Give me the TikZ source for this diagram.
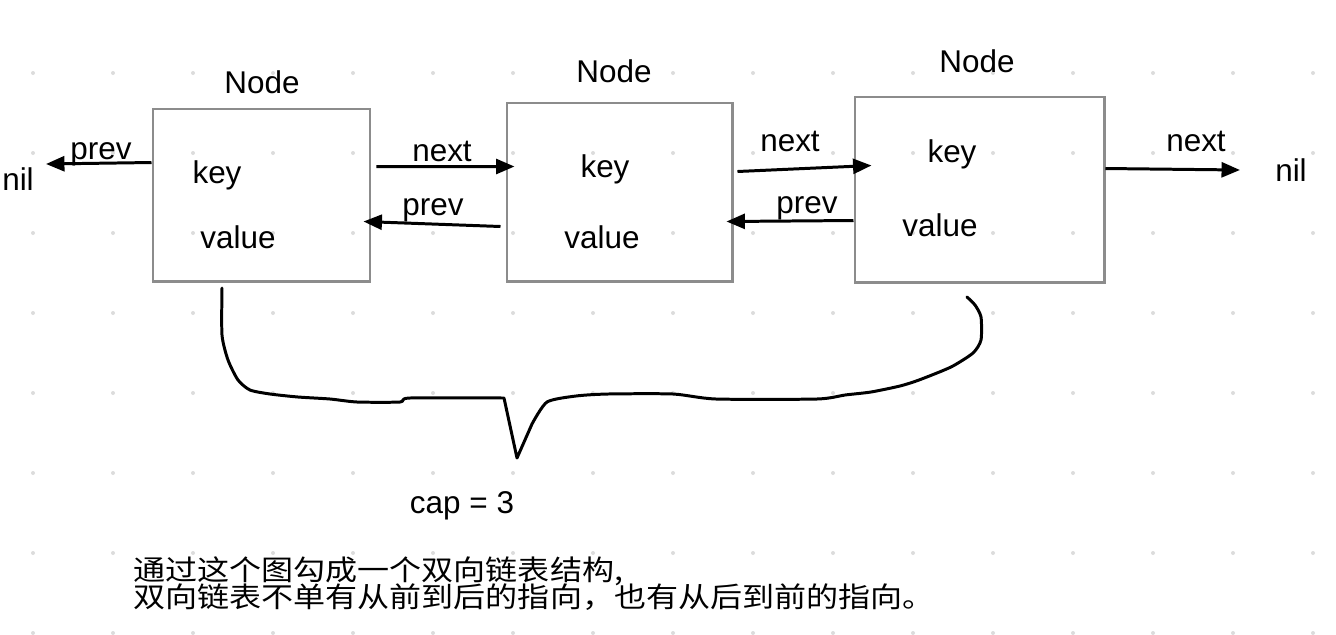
\documentclass[tikz,border=0pt]{standalone}
\usepackage{fontspec}
\setmainfont{Liberation Sans}
\newfontfamily\cjk[FakeStretch=1.14]{Noto Sans CJK SC}
\usetikzlibrary{arrows.meta}
\definecolor{boxgray}{RGB}{140,140,140}
\definecolor{dotgray}{RGB}{220,220,220}

\begin{document}
\begin{tikzpicture}[scale=0.2]
\tikzstyle{every node}+=[inner sep=0pt, font=\fontsize{17.9}{21}\selectfont]
\tikzstyle{listnode}=[draw=boxgray, line width=1.7pt, rectangle]
\tikzstyle{link}=[black, line width=1.7pt, -{Triangle[length=10.5pt,width=8.5pt]}]
\tikzstyle{brace}=[black, line width=1.7pt, line join=round, line cap=round]
\useasboundingbox (0,0) rectangle (133.6,-63.4);
\foreach \i in {0,...,16}
  \foreach \j in {0,...,7}
    \fill [dotgray] (3.3+8*\i,-7.3-8*\j) circle (0.2);
\node [listnode, minimum width=4.34cm, minimum height=3.44cm] (n1) at (26.15,-19.5) {};
\node [listnode, minimum width=4.5cm, minimum height=3.56cm] (n2) at (61.95,-19.2) {};
\node [listnode, minimum width=4.98cm, minimum height=3.7cm] (n3) at (97.95,-18.95) {};
\node [anchor=base] (title1) at (26.2,-9.3) {Node};
\node [anchor=base] (title2) at (61.4,-8.2) {Node};
\node [anchor=base] (title3) at (97.7,-7.2) {Node};
\node [anchor=base] (key1) at (21.7,-18.3) {key};
\node [anchor=base] (value1) at (23.8,-24.8) {value};
\node [anchor=base] (key2) at (60.5,-17.7) {key};
\node [anchor=base] (value2) at (60.2,-24.8) {value};
\node [anchor=base] (key3) at (95.2,-16.2) {key};
\node [anchor=base] (value3) at (94.0,-23.6) {value};
\node [anchor=base] (nilL) at (1.8,-19.0) {nil};
\node [anchor=base] (nilR) at (129.1,-18.1) {nil};
\coordinate (nilLend) at (4.6,-16.4);
\coordinate (nilRend) at (124.0,-17.0);
\draw [link] ([shift={(0,-5.5)}]n1.north west) -- (nilLend);
\draw (10.1,-15.9) node [anchor=base] {prev};
\draw [link] ([shift={(0.5,-5.9)}]n1.north east) -- ([shift={(0.9,-6.5)}]n2.north west);
\draw (44.2,-16.1) node [anchor=base] {next};
\draw [link] ([shift={(-0.5,-12.5)}]n2.north west) -- ([shift={(-0.8,-11.4)}]n1.north east);
\draw (43.3,-21.5) node [anchor=base] {prev};
\draw [link] ([shift={(0.4,-7.0)}]n2.north east) -- ([shift={(1.8,-7.0)}]n3.north west);
\draw (79.0,-15.1) node [anchor=base] {next};
\draw [link] ([shift={(0,-12.5)}]n3.north west) -- ([shift={(-0.7,-12.0)}]n2.north east);
\draw (80.7,-21.3) node [anchor=base] {prev};
\draw [link] ([shift={(0,-7.3)}]n3.north east) -- (nilRend);
\draw (119.6,-15.1) node [anchor=base] {next};
\draw [brace] plot [smooth, tension=0.4] coordinates {(22.2,-28.8) (22.2,-33.5) (22.8,-36.0) (23.8,-38.0) (25.0,-39.0) (27.0,-39.4) (29.8,-39.7) (33.0,-39.9) (35.7,-40.2) (40.0,-40.2) (41.0,-39.8) (50.4,-39.8)}
  -- (51.7,-45.8) -- (53.2,-42.4)
  -- plot [smooth, tension=0.4] coordinates {(53.2,-42.4) (54.7,-40.2) (57.6,-39.6) (60.8,-39.4) (67.3,-39.4) (71.6,-39.9) (81.7,-39.9) (84.5,-39.5) (87.1,-39.2) (90.0,-38.6) (91.9,-38.0) (95.1,-36.7) (97.3,-35.3) (98.1,-34.0) (98.1,-31.7) (97.5,-30.5) (96.7,-29.7)};
\node [anchor=base] (cap) at (46.2,-51.3) {cap = 3};
\node [anchor=base west, font=\cjk\fontsize{16}{18}\selectfont] (desc1) at (13.3,-58.0) {通过这个图勾成一个双向链表结构,};
\node [anchor=base west, font=\cjk\fontsize{16}{18}\selectfont] (desc2) at (13.3,-60.7) {双向链表不单有从前到后的指向，也有从后到前的指向。};
\end{tikzpicture}
\end{document}
